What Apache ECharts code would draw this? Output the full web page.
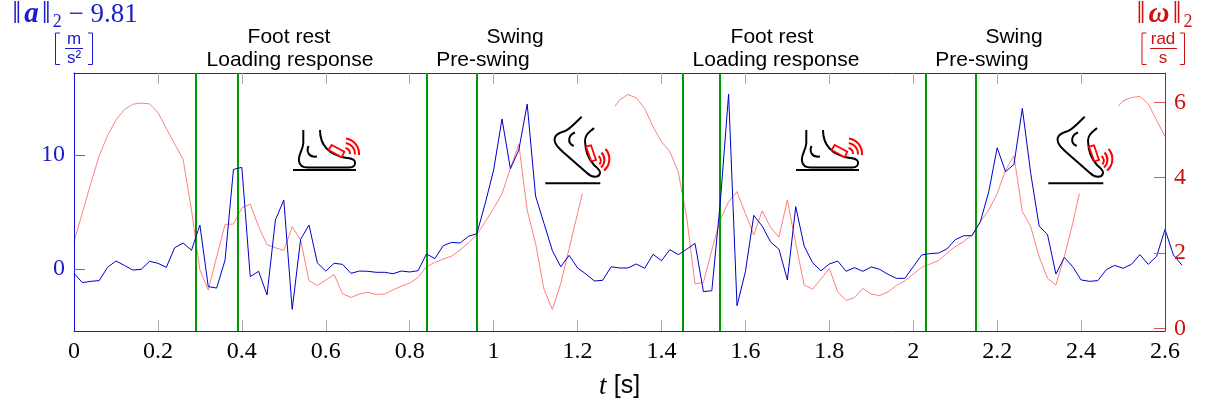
<!DOCTYPE html>
<html><head><meta charset="utf-8">
<style>html,body{margin:0;padding:0;background:#fff}#c{width:1205px;height:409px}</style>
<script src="https://cdn.jsdelivr.net/npm/echarts@6/dist/echarts.min.js"></script>
</head><body><div id="c"></div>
<script>
const sampleStep = 0.02;
const accel = [-0.38,-1.20,-1.08,-1.02,0.15,0.70,0.32,-0.09,-0.03,0.67,0.50,0.15,1.87,2.28,1.64,3.86,-1.55,-1.67,0.79,8.74,
 8.92,-0.67,-0.20,-2.28,4.30,6.05,-3.54,2.60,3.86,0.53,-0.18,0.50,0.41,-0.38,-0.18,-0.20,-0.29,-0.29,-0.41,-0.18,
 -0.26,-0.15,1.32,0.91,2.05,2.34,2.28,2.87,3.10,5.76,8.68,13.16,8.80,10.44,14.47,6.40,4.01,1.61,0.20,1.20,
 0.09,-0.44,-1.05,-0.99,0.20,0.09,0.09,0.44,0.06,1.29,0.73,1.70,1.26,1.73,2.25,-1.99,-1.90,5.76,15.35,-3.22,
 -0.23,4.71,3.77,2.37,1.73,-0.96,5.47,2.02,0.56,-0.15,0.44,0.70,-0.20,0.12,-0.20,0.18,-0.03,-0.47,-0.82,-0.82,
 0.20,1.23,1.35,1.40,1.75,2.57,2.92,2.92,4.15,6.78,10.64,8.54,9.18,14.09,8.39,3.77,3.01,-0.44,1.02,0.20,
 -0.96,-1.08,-1.02,-0.06,0.32,0.06,0.41,1.26,0.41,1.11,3.48,1.23,0.35];
// Angular rate, split where the foot pictures hide the trace.
const gyroA = [2.30,3.07,3.85,4.58,5.12,5.53,5.81,5.95,5.98,5.96,5.73,5.31,4.89,4.49,3.14,1.55,1.02,1.90,2.76,2.77,
 3.20,3.30,2.70,2.22,2.14,2.07,2.70,2.35,1.27,1.14,1.28,1.43,0.92,0.82,0.91,0.96,0.90,0.91,1.02,1.12,
 1.20,1.35,1.64,1.75,1.84,1.92,2.08,2.27,2.49,2.83,3.19,3.57,4.25,4.89,3.14,2.26,1.04,0.50,1.19,2.12,3.05];
const gyroAEnd = [1.2115,3.58];
const gyroBStart = [1.2893,5.90];
const gyroBFirstTime = 1.30;
const gyroB = [6.06,6.21,6.12,5.84,5.35,4.96,4.69,4.16,2.96,1.18,1.22,2.08,2.88,3.36,3.63,3.05,2.48,3.12,2.68,2.42,
 3.41,2.26,1.15,1.04,1.31,1.59,0.97,0.74,0.82,1.06,0.91,0.87,0.97,1.14,1.26,1.44,1.62,1.71,1.80,1.99,
 2.17,2.30,2.48,2.83,3.14,3.58,4.20,4.58,3.10,2.70,1.90,1.33,1.15,1.90,2.79];
const gyroBEnd = [2.396,3.58];
const gyroCStart = [2.4888,5.90];
const gyroCFirstTime = 2.50;
const gyroC = [6.04,6.13,6.16,5.96,5.53,5.09];
const phaseTimes = [0.29,0.39,0.84,0.96,1.45,1.54,2.03,2.15];
const accelTicks = [0,10];
const gyroTicks = [0,2,4,6];
const phaseLabels = [
 ['Foot rest',289,37],['Loading response',290,60],['Swing',515,37],['Pre-swing',483,60],
 ['Foot rest',772,37],['Loading response',776,60],['Swing',1014,37],['Pre-swing',982,60]];

const BLUE='#1a1ad0', RED='#cc1111', SERIF='"Liberation Serif",serif', SANS='"Liberation Sans",sans-serif';
const T = i => +(i*sampleStep).toFixed(2);
const accelData = accel.map((v,i)=>[T(i),v]);
const pairs = (vals,t0)=>vals.map((v,i)=>[+(t0+i*sampleStep).toFixed(2),v]);
const gyroData = [...pairs(gyroA,0),gyroAEnd,[1.25,null],gyroBStart,...pairs(gyroB,gyroBFirstTime),gyroBEnd,[2.44,null],gyroCStart,...pairs(gyroC,gyroCFirstTime)];

const K='#000';
let shapeCount=0;
function pathEl(d,dx,style){
 const name='iconPath'+(shapeCount++);
 echarts.graphic.registerShape(name,echarts.graphic.extendPath(d));
 return {type:name,x:dx,y:0,silent:true,style:style};
}
const ink={stroke:K,lineWidth:2,fill:'none'};
const ground={stroke:K,lineWidth:2,fill:'none'};
const sensor={stroke:'#f00',lineWidth:1.8,fill:'#fff'};
const waves={stroke:'#f00',lineWidth:2,fill:'none'};
function footFlat(dx){return [
 pathEl('M293 170L356 170',dx,ground),
 pathEl('M303.3 130L303.3 143C303 150 298 155 299 161C299.5 166 303 167.6 308 167.6L349 167.6C354 167.6 355.5 165 355 162C354.5 159 351 158.6 347 158C335 156 320 150 320 130',dx,ink),
 pathEl('M308.5 146C306 152 309 157.5 317 156.5',dx,ink),
 pathEl('M331.7 145L344.3 151.7L341.7 157.3L328.5 150Z',dx,sensor),
 pathEl('M345.5 148A6 6 0 0 1 350 154M345.8 143A11 11 0 0 1 355 154.5M346 138.5A15.5 15.5 0 0 1 359 155',dx,waves)
];}
function footRaised(dx){return [
 pathEl('M545.3 183.3L600.3 183.3',dx,ground),
 pathEl('M581.7 116.7C575 123 570 129 565 131C558 133 553 136 555 142C556 146 560 149 563 152L587 173C592 178 599 178 600 173C600.5 170 597 168 594 165C587 157 585.5 150 585 141C585 134 590 132 594 128',dx,ink),
 pathEl('M575 132.5C568 135 567 143 573.7 146',dx,ink),
 pathEl('M586 146.7L591 145.3L596 160L591.3 161.3Z',dx,sensor),
 pathEl('M598.5 156A6 6 0 0 1 599.5 164.5M601.5 152.5A10.5 10.5 0 0 1 601 167.5M605.5 149A15 15 0 0 1 604 170.5',dx,waves)
];}
const txt=(text,x,y,font,fill)=>({type:'text',x,y,style:{text,x:0,y:0,fill,font,textAlign:'center',textVerticalAlign:'middle'}});
const line=(x1,y1,x2,y2,c,w)=>({type:'line',shape:{x1,y1,x2,y2},style:{stroke:c,lineWidth:w||1}});
const bracket=(pts,c)=>({type:'polyline',shape:{points:pts},style:{stroke:c,lineWidth:1,fill:'none'}});
const graphic=[
 ...phaseLabels.map(([s,x,y])=>txt(s,x,y,'21px '+SANS,'#000')),
 ...footFlat(0),...footRaised(0),...footFlat(503),...footRaised(503),
 txt('m',74,39,'17px '+SANS,BLUE),
 line(65,48.5,83,48.5,BLUE,1),
 txt('s²',74,58,'17px '+SANS,BLUE),
 bracket([[60,33],[55.5,33],[55.5,64.5],[60,64.5]],BLUE),
 bracket([[88,33],[92.5,33],[92.5,64.5],[88,64.5]],BLUE),
 txt('rad',1163,39,'17px '+SANS,RED),
 line(1150,48.5,1177,48.5,RED,1),
 txt('s',1163,58,'17px '+SANS,RED),
 bracket([[1146.5,33],[1142,33],[1142,64.5],[1146.5,64.5]],RED),
 bracket([[1180,33],[1184.5,33],[1184.5,64.5],[1180,64.5]],RED)
];

const tickGray='#aaaaaa';
const nameRich=c=>({n:{fontFamily:SERIF,fontSize:27,color:c},
 v:{fontFamily:SERIF,fontSize:32,color:c,padding:[0,2,0,2]},
 b:{fontFamily:SERIF,fontWeight:'bold',fontStyle:'italic',fontSize:29,color:c,padding:[0,1,0,1]},
 s:{fontFamily:SERIF,fontSize:18,color:c,verticalAlign:'bottom'}});
const yMin=-5.44,yMax=17.2;
const option={
 animation:false,
 backgroundColor:'#fff',
 grid:[
  {left:74,right:40,top:73,bottom:78,outerBoundsMode:'none'},
  {left:74,right:23.2,top:73,bottom:78,outerBoundsMode:'none'}
 ],
 xAxis:[
  {type:'value',position:'bottom',min:0,max:2.6,interval:0.2,splitLine:{show:false},z:1,
   axisLine:{onZero:false,lineStyle:{color:'#333',width:1}},
   axisTick:{inside:true,length:11,lineStyle:{color:tickGray,width:1}},
   axisLabel:{color:'#000',fontFamily:SERIF,fontSize:24,margin:9,showMinLabel:true,showMaxLabel:true},
   name:'{t|t} {u|[s]}',nameLocation:'middle',nameGap:42,
   nameTextStyle:{rich:{t:{fontFamily:SERIF,fontStyle:'italic',fontSize:27,color:'#000',padding:[0,4,0,0]},u:{fontFamily:SANS,fontSize:25,color:'#000'}}}},
  {type:'value',position:'top',min:0,max:2.6,interval:0.2,splitLine:{show:false},z:1,
   axisLine:{onZero:false,lineStyle:{color:'#333',width:1}},
   axisTick:{inside:true,length:11,lineStyle:{color:tickGray,width:1}},axisLabel:{show:false}},
  {type:'value',gridIndex:1,show:false,min:0,max:2.64}
 ],
 yAxis:[
  {type:'value',position:'left',min:yMin,max:yMax,splitLine:{show:false},z:10,
   axisLine:{onZero:false,lineStyle:{color:'#1010d8',width:1}},
   axisTick:{inside:true,length:11,customValues:accelTicks,lineStyle:{color:'#6666d8',width:1}},
   axisLabel:{customValues:accelTicks,color:BLUE,fontFamily:SERIF,fontSize:24,margin:9,padding:[3,0,0,0]},
   name:'{v|‖}{b|a}{v|‖}{s|2}{n| − 9.81}',nameLocation:'end',nameGap:42,
   nameTextStyle:{align:'center',rich:nameRich(BLUE)}},
  {type:'value',position:'right',min:-0.07,max:6.78,splitLine:{show:false},z:10,
   axisLine:{onZero:false,lineStyle:{color:RED,width:1}},
   axisTick:{inside:true,length:11,customValues:gyroTicks,lineStyle:{color:'#d85a5a',width:1}},
   axisLabel:{customValues:gyroTicks,color:RED,fontFamily:SERIF,fontSize:24,margin:9,padding:[3,0,0,0]},
   name:'{v|‖}{b|ω}{v|‖}{s|2}',nameLocation:'end',nameGap:42,
   nameTextStyle:{align:'center',padding:[0,3,0,0],rich:nameRich(RED)}},
  {type:'value',gridIndex:1,show:false,min:yMin,max:yMax}
 ],
 series:[
  {name:'omega',type:'line',xAxisIndex:0,yAxisIndex:1,data:gyroData,showSymbol:false,symbol:'none',connectNulls:false,z:2,
   lineStyle:{color:'#ff8080',width:1},
   markLine:{silent:true,symbol:'none',animation:false,z:3,label:{show:false},lineStyle:{color:'#009900',width:2,type:'solid'},data:phaseTimes.map(t=>({xAxis:t}))}},
  {name:'a',type:'line',xAxisIndex:2,yAxisIndex:2,data:accelData,showSymbol:false,symbol:'none',z:4,lineStyle:{color:'#0000cc',width:1}}
 ],
 graphic:graphic
};
echarts.init(document.getElementById('c'),null,{renderer:'canvas'}).setOption(option);
</script></body></html>
